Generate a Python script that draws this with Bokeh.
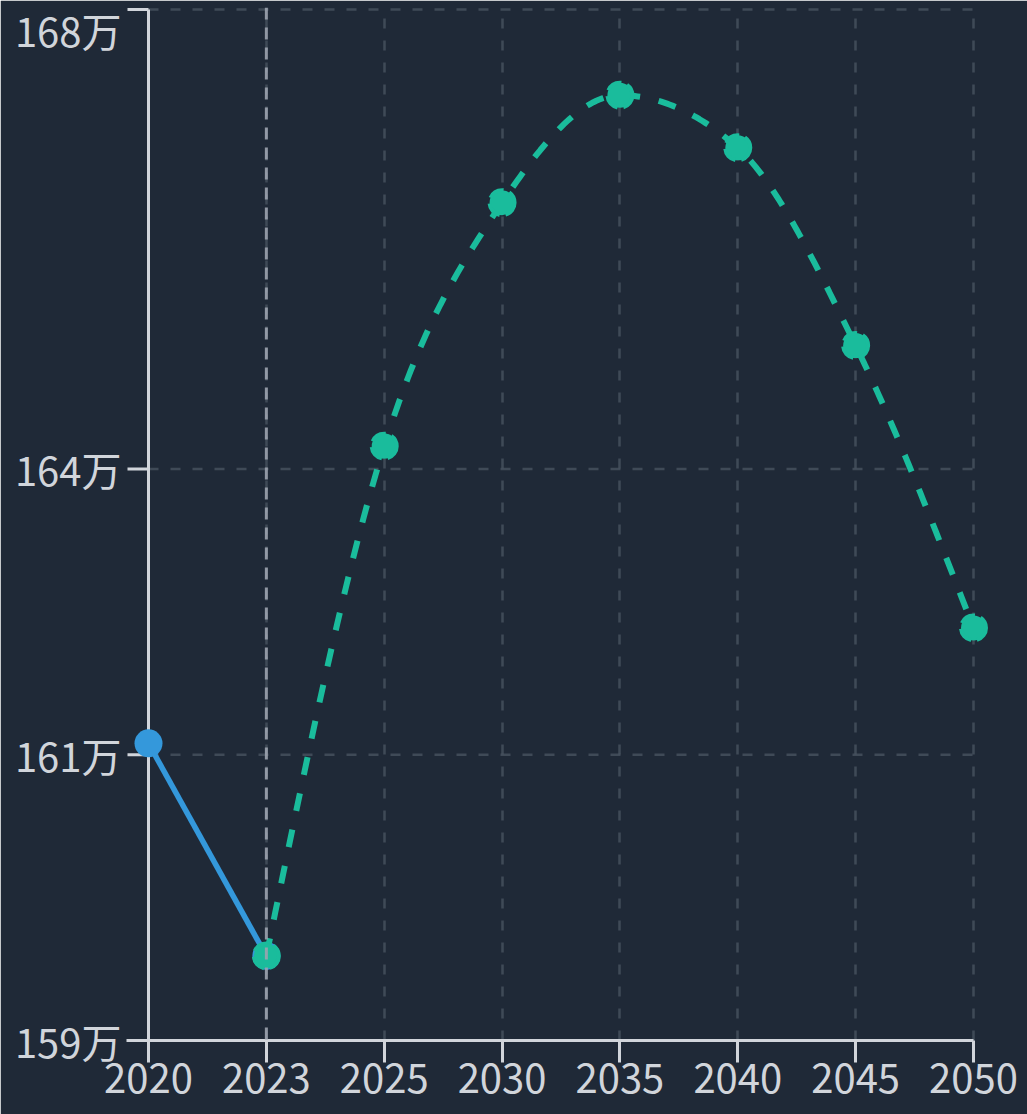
import numpy as np
from bokeh.plotting import figure
from bokeh.models import FixedTicker, Span, Range1d
from bokeh.embed import file_html
from bokeh.resources import INLINE

# ---- data (population, in 万) ----
years = ["2020", "2023", "2025", "2030", "2035", "2040", "2045", "2050"]
actual_years = ["2020", "2023"]
actual_values = [161.50, 159.64]
proj_years = ["2023", "2025", "2030", "2035", "2040", "2045", "2050"]
proj_values = [159.64, 164.10, 166.23, 167.17, 166.71, 164.98, 162.51]
y_tick_values = [158.90, 161.40, 163.90, 167.92]
y_tick_labels = ["159万", "161万", "164万", "168万"]
current_year = "2023"

BG = "#1f2937"
AXIS = "#d1d5db"
GRID = "#4b5563"
BLUE = "#3498db"
GREEN = "#1abc9c"
FONT = "Noto Sans CJK SC"

# ---- layout (pixels) ----
W, H = 1027, 1114
FRAME_L, FRAME_R, FRAME_T, FRAME_B = 126, 991, 7, 1040
X_FIRST, X_LAST = 148, 973          # pixel positions of first / last category
TICK_STEP_PX = 285.75                # pixel distance between the lower y ticks
TOP_LABEL_SHIFT = 17.5               # top tick label is pushed down inside the chart


def monotone_x(xs, ys, steps=40):
    """Render helper: d3.curveMonotoneX style cubic path through the points."""
    xs = np.asarray(xs, float)
    ys = np.asarray(ys, float)
    n = len(xs)
    h = np.diff(xs)
    s = np.diff(ys) / h
    m = np.zeros(n)
    for i in range(1, n - 1):
        s0, s1 = s[i - 1], s[i]
        p = (s0 * h[i] + s1 * h[i - 1]) / (h[i - 1] + h[i])
        sg = (np.sign(s0) if s0 != 0 else 1) + (np.sign(s1) if s1 != 0 else 1)
        m[i] = sg * min(abs(s0), abs(s1), 0.5 * abs(p))
    m[0] = (3 * s[0] - m[1]) / 2
    m[-1] = (3 * s[-1] - m[-2]) / 2
    px, py = [xs[0]], [ys[0]]
    t = np.linspace(0, 1, steps + 1)[1:]
    for i in range(n - 1):
        dx = h[i] / 3
        P0 = (xs[i], ys[i])
        P1 = (xs[i] + dx, ys[i] + dx * m[i])
        P2 = (xs[i + 1] - dx, ys[i + 1] - dx * m[i + 1])
        P3 = (xs[i + 1], ys[i + 1])
        a = (1 - t) ** 3
        b = 3 * (1 - t) ** 2 * t
        c = 3 * (1 - t) * t ** 2
        d = t ** 3
        px.extend(a * P0[0] + b * P1[0] + c * P2[0] + d * P3[0])
        py.extend(a * P0[1] + b * P1[1] + c * P2[1] + d * P3[1])
    return px, py


idx = list(range(len(years)))
ax = [years.index(y) for y in actual_years]
pxs = [years.index(y) for y in proj_years]

n_int = len(years) - 1
ux = (X_LAST - X_FIRST) / n_int
x_start = -(X_FIRST - FRAME_L) / ux
x_end = n_int + (FRAME_R - X_LAST) / ux
y0 = y_tick_values[0]
uy = TICK_STEP_PX / (y_tick_values[1] - y_tick_values[0])
y_end = y0 + (FRAME_B - FRAME_T) / uy

p = figure(
    width=W, height=H,
    x_range=Range1d(x_start, x_end),
    y_range=Range1d(y0, y_end),
    output_backend="svg", toolbar_location=None,
    min_border_left=FRAME_L, min_border_right=W - FRAME_R,
    min_border_top=FRAME_T, min_border_bottom=H - FRAME_B,
    background_fill_color=BG, border_fill_color=BG,
    outline_line_color=BG, outline_line_width=3,
)

# vertical grid (Bokeh grid), horizontal grid drawn between first and last year
p.xgrid.ticker = FixedTicker(ticks=idx)
p.xgrid.grid_line_color = GRID
p.xgrid.grid_line_alpha = 0.75
p.xgrid.grid_line_width = 2.5
p.xgrid.grid_line_dash = "10 12"
p.ygrid.visible = False
hg = y_tick_values[1:]
p.segment(x0=[0] * len(hg), y0=hg, x1=[n_int] * len(hg), y1=hg,
          line_color=GRID, line_alpha=0.75, line_width=2.5, line_dash="10 12")

# current-year marker line
p.add_layout(Span(location=years.index(current_year), dimension="height",
                  line_color="#9ca3af", line_width=3, line_dash="12 8", line_alpha=0.9))

# x axis
p.xaxis.ticker = FixedTicker(ticks=idx)
p.xaxis.major_label_overrides = {i: y for i, y in enumerate(years)}
p.xaxis.bounds = (x_start, n_int)
p.xaxis.major_tick_out = 22
p.xaxis.major_label_standoff = 1
p.xaxis.axis_line_color = AXIS
p.xaxis.axis_line_width = 3
p.xaxis.major_tick_line_color = AXIS
p.xaxis.major_tick_line_width = 3

# y axis: Bokeh's axis carries the labels; its line and ticks are drawn at 2020
label_pos = list(y_tick_values)
label_pos[-1] = y_tick_values[-1] - TOP_LABEL_SHIFT / uy
p.yaxis.ticker = FixedTicker(ticks=label_pos)
p.yaxis.major_label_overrides = {v: l for v, l in zip(label_pos, y_tick_labels)}
p.yaxis.axis_line_color = None
p.yaxis.major_tick_line_color = None
p.yaxis.major_tick_out = 0
p.yaxis.major_label_standoff = 5

for a in (p.xaxis, p.yaxis):
    a.minor_tick_line_color = None
    a.major_tick_in = 0
    a.major_label_text_color = AXIS
    a.major_label_text_font = FONT
    a.major_label_text_font_size = "40px"

p.segment(x0=[0], y0=[y_tick_values[0]], x1=[0], y1=[y_tick_values[-1]],
          line_color=AXIS, line_width=3)
p.ray(x=[0] * len(y_tick_values), y=y_tick_values, length=21, length_units="screen",
      angle=np.pi, line_color=AXIS, line_width=3)

# actual series
p.line(ax, actual_values, line_color=BLUE, line_width=5.5)
p.scatter(ax, actual_values, size=28, fill_color=BLUE, line_color=None)

# projection series
cx, cy = monotone_x(pxs, proj_values)
p.line(cx, cy, line_color=GREEN, line_width=6, line_dash="18 19")
p.scatter(pxs, proj_values, size=25, fill_color=GREEN, line_color=GREEN,
          line_width=4, line_dash="16 6")

open("out.html", "w").write(file_html(p, INLINE))
